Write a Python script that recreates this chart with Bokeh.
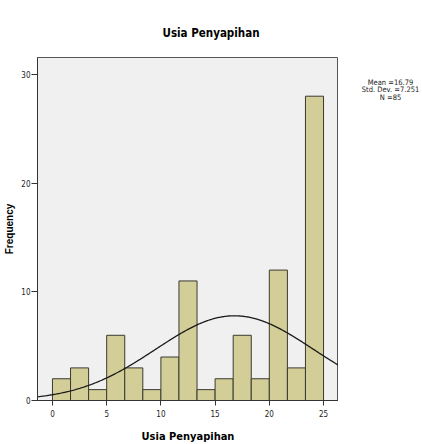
import numpy as np
from bokeh.plotting import figure
from bokeh.models import Range1d, FixedTicker
from bokeh.layouts import row
from bokeh.core.properties import value
from bokeh.embed import file_html
from bokeh.resources import INLINE

# data
counts = [2, 3, 1, 6, 3, 1, 4, 11, 1, 2, 6, 2, 12, 3, 28]
bin_start, bin_end = 0, 25
mean_val, sd_val, n_val = 16.79, 7.251, 85
x_ticks = [0, 5, 10, 15, 20, 25]
y_ticks = [0, 10, 20, 30]
stats = ["Mean =16.79", "Std. Dev. =7.251", "N =85"]
stats_y = [29.25, 28.6, 27.9]

FONT = "DejaVu Sans Condensed"

edges = np.linspace(bin_start, bin_end, len(counts) + 1)
bw = edges[1] - edges[0]
yr = Range1d(0, 31.56)

p = figure(frame_width=301, frame_height=343, output_backend="svg", toolbar_location=None,
           x_range=Range1d(-1.38, 26.38), y_range=yr,
           min_border_left=37, min_border_right=0, min_border_top=57, min_border_bottom=40)

p.title.text = "Usia Penyapihan"
p.title.align = "left"
p.title.offset = 125
p.title.vertical_align = "top"
p.title.standoff = 32
p.title.text_font = FONT
p.title.text_font_size = "11.5px"
p.title.text_font_style = "bold"
p.title.text_color = "#000000"

p.background_fill_color = "#F0F0F0"
p.border_fill_color = "white"
p.outline_line_color = "#555555"
p.outline_line_width = 1
p.grid.visible = False

p.quad(left=edges[:-1], right=edges[1:], bottom=0, top=counts,
       fill_color="#D3CE97", line_color="#3a3a30", line_width=1)

xs = np.linspace(-1.38, 26.38, 300)
ys = n_val * bw / (sd_val * np.sqrt(2 * np.pi)) * np.exp(-0.5 * ((xs - mean_val) / sd_val) ** 2)
p.line(xs, ys, line_color="#1a1a1a", line_width=1.3)

for ax in (p.xaxis[0], p.yaxis[0]):
    ax.axis_line_color = "#333333"
    ax.major_tick_line_color = "#333333"
    ax.major_tick_out = 5
    ax.major_tick_in = 0
    ax.minor_tick_line_color = None
    ax.major_label_text_font = FONT
    ax.major_label_text_font_size = "8px"
    ax.major_label_text_color = "#222222"
    ax.axis_label_text_font_style = "bold"
    ax.axis_label_text_color = "#000000"

p.yaxis.major_tick_out = 6
p.xaxis.ticker = FixedTicker(ticks=x_ticks)
p.yaxis.ticker = FixedTicker(ticks=y_ticks)
p.xaxis.axis_label = "Usia Penyapihan"
p.xaxis.axis_label_text_font = FONT
p.xaxis.axis_label_text_font_size = "11px"
p.xaxis.axis_label_standoff = 10
p.xaxis.major_label_standoff = 4
p.yaxis.axis_label = "Frequency"
p.yaxis.axis_label_text_font = "Liberation Sans"
p.yaxis.axis_label_text_font_size = "10px"
p.yaxis.axis_label_standoff = 3
p.yaxis.major_label_standoff = 1

# side panel for the statistics text, sharing the vertical scale
s = figure(frame_width=84, frame_height=343, output_backend="svg", toolbar_location=None,
           x_range=Range1d(0, 84), y_range=yr,
           min_border_left=0, min_border_right=0, min_border_top=57, min_border_bottom=40,
           outline_line_color=None)
s.axis.visible = False
s.grid.visible = False
s.background_fill_color = "white"
s.border_fill_color = "white"
s.text(x=[52, 52, 52], y=stats_y, text=stats, text_align="center",
       text_baseline="middle", text_font=value(FONT), text_font_size="7.5px",
       text_color="#222222")

layout = row(p, s, spacing=0)
open("out.html", "w").write(file_html(layout, INLINE))
